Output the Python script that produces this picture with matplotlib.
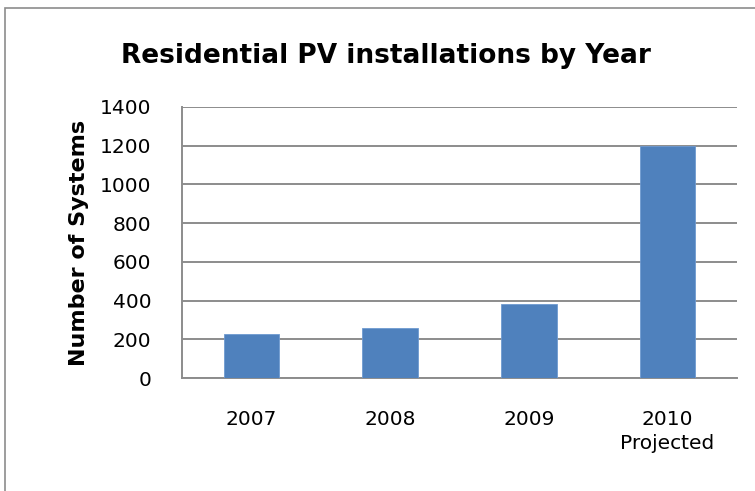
import matplotlib.pyplot as plt
from matplotlib.patches import Rectangle

years = ['2007', '2008', '2009', '2010\nProjected']
systems = [228, 256, 382, 1200]
y_ticks = [0, 200, 400, 600, 800, 1000, 1200, 1400]


def main():
    plt.rcParams['font.family'] = ['DejaVu Sans']

    fig = plt.figure(figsize=(7.55, 4.91), dpi=100)
    ax = fig.add_axes([182 / 755, 1 - 378 / 491, (737 - 182) / 755, (378 - 107) / 491])

    # Outer chart frame (only left and top edges visible in the crop)
    fig.patches.append(Rectangle((5 / 755, -0.05), 1.2, 1 - 8 / 491 + 0.05,
                                 transform=fig.transFigure, fill=False,
                                 edgecolor='#8c8c8c', linewidth=1.2))

    x = range(len(years))
    ax.bar(x, systems, width=0.4, color='#4f81bd', edgecolor='#6f9ad0',
           linewidth=0.6, zorder=3)

    ax.set_xlim(-0.5, len(years) - 0.5)
    ax.set_ylim(0, 1400)
    ax.set_yticks(y_ticks)
    ax.set_xticks(list(x))
    ax.set_xticklabels(years, fontsize=14.5, linespacing=1.35)
    ax.tick_params(axis='y', labelsize=14.5, length=0, pad=22)
    ax.tick_params(axis='x', length=0, pad=23)

    ax.grid(axis='y', color='#8c8c8c', linewidth=1.4, zorder=0)
    for side in ['top', 'right']:
        ax.spines[side].set_visible(False)
    for side in ['left', 'bottom']:
        ax.spines[side].set_color('#8c8c8c')
        ax.spines[side].set_linewidth(1.4)

    ax.set_ylabel('Number of Systems', fontsize=16, fontweight='bold', labelpad=8)
    fig.text(386 / 755, 1 - 63 / 491, 'Residential PV installations by Year',
             ha='center', va='baseline', fontsize=19, fontweight='bold')

    plt.savefig('out.png', dpi=100)


if __name__ == '__main__':
    main()
